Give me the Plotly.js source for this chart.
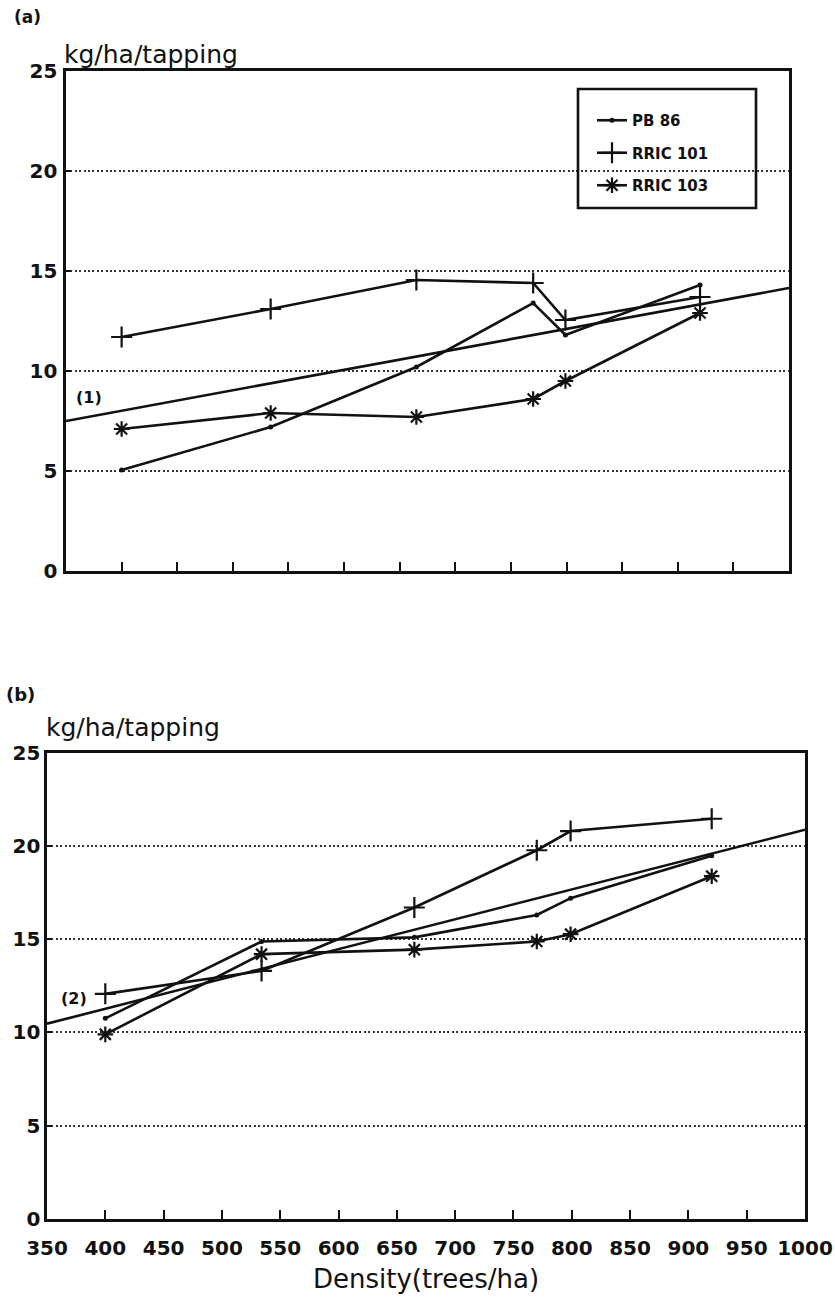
<!DOCTYPE html>
<html>
<head>
<meta charset="utf-8">
<script src="https://cdn.plot.ly/plotly-3.0.1.min.js"></script>
<style>
  html, body { margin: 0; padding: 0; background: #ffffff; }
  #chart { width: 835px; height: 1301px; }
</style>
</head>
<body>
<div id="chart"></div>
<script>
// ---------------- data ----------------
const density = [400, 534, 665, 770, 799, 920];

// panel (a)
const pb86A    = [5.05, 7.2, 10.2, 13.4, 11.8, 14.3];
const rric101A = [11.7, 13.1, 14.55, 14.4, 12.55, 13.7];
const rric103A = [7.1, 7.9, 7.7, 8.6, 9.5, 12.9];

// panel (b)
const pb86B    = [10.76, 14.88, 15.1, 16.3, 17.2, 19.47];
const rric101B = [12.07, 13.3, 16.7, 19.77, 20.8, 21.46];
const rric103B = [9.9, 14.2, 14.44, 14.88, 15.27, 18.38];

// fitted lines (1) and (2)
const regX = [350, 1000];
const regA = [7.5, 14.15];
const regB = [10.47, 20.87];

const seriesNames = ['PB 86', 'RRIC 101', 'RRIC 103'];
const yTickVals = [0, 5, 10, 15, 20, 25];
const xTickVals = [350, 400, 450, 500, 550, 600, 650, 700, 750, 800, 850, 900, 950, 1000];
const xTickText = ['350', '400', '450', '500', '550', '600', '650', '700', '750', '800', '850', '900', '950', '1000'];

// ---------------- helpers ----------------
const W = 835, H = 1301;
const fx = p => p / W;
const fy = p => 1 - p / H;

const INK = '#111111';
const lineStyle = { color: INK, width: 2.6 };
const markerStyles = [
  { symbol: 'circle', size: 5, color: INK, line: { width: 0 } },
  { symbol: 'cross-thin', size: 15, color: INK, line: { width: 2.2, color: INK } },
  { symbol: 'asterisk', size: 13, color: INK, line: { width: 2.2, color: INK } }
];

function series(x, y, idx, xa, ya, legend) {
  return {
    type: 'scatter', mode: 'lines+markers',
    x: x, y: y, xaxis: xa, yaxis: ya,
    name: seriesNames[idx],
    legendgroup: 'g' + idx,
    showlegend: legend,
    line: lineStyle,
    marker: markerStyles[idx],
    hoverinfo: 'x+y+name'
  };
}
function reg(y, xa, ya, name) {
  return {
    type: 'scatter', mode: 'lines', x: regX, y: y, xaxis: xa, yaxis: ya,
    name: name, showlegend: false, line: lineStyle
  };
}

const data = [
  series(density, pb86A, 0, 'x', 'y', true),
  series(density, rric101A, 1, 'x', 'y', true),
  series(density, rric103A, 2, 'x', 'y', true),
  reg(regA, 'x', 'y', '(1)'),
  series(density, pb86B, 0, 'x2', 'y2', false),
  series(density, rric101B, 1, 'x2', 'y2', false),
  series(density, rric103B, 2, 'x2', 'y2', false),
  reg(regB, 'x2', 'y2', '(2)')
];

const tickFont = { family: 'DejaVu Sans', size: 20, color: INK, weight: 'bold' };
const gridCommon = {
  showgrid: true, gridcolor: '#333333', gridwidth: 2, griddash: '2px,2.4px',
  zeroline: false, showline: true, linecolor: INK, linewidth: 2.6, mirror: true,
  automargin: false, fixedrange: true
};

const layout = {
  width: W, height: H,
  margin: { l: 0, r: 0, t: 0, b: 0 },
  paper_bgcolor: '#ffffff', plot_bgcolor: '#ffffff',
  font: { family: 'DejaVu Sans', color: INK },
  showlegend: true,
  legend: {
    x: fx(592), y: fy(104), xanchor: 'left', yanchor: 'top',
    bgcolor: 'rgba(0,0,0,0)', borderwidth: 0,
    font: { family: 'DejaVu Sans', size: 15, color: INK, weight: 'bold' },
    tracegroupgap: 10, traceorder: 'grouped'
  },
  xaxis: Object.assign({}, gridCommon, {
    domain: [fx(66), fx(789)], range: [350, 1000], anchor: 'y',
    showgrid: false, tickmode: 'array', tickvals: xTickVals, ticktext: xTickText,
    ticks: 'inside', ticklen: 9, tickwidth: 2, tickcolor: INK,
    showticklabels: false
  }),
  yaxis: Object.assign({}, gridCommon, {
    domain: [fy(571), fy(71)], range: [0, 25], anchor: 'x',
    tickmode: 'array', tickvals: yTickVals,
    ticks: 'inside', ticklen: 5, tickwidth: 2, tickcolor: INK,
    tickfont: tickFont, ticklabelstandoff: 2
  }),
  xaxis2: Object.assign({}, gridCommon, {
    domain: [fx(47), fx(805)], range: [350, 1000], anchor: 'y2',
    showgrid: false, tickmode: 'array', tickvals: xTickVals, ticktext: xTickText,
    ticks: 'inside', ticklen: 9, tickwidth: 2, tickcolor: INK,
    tickfont: tickFont, ticklabelstandoff: 9,
    title: { text: 'Density(trees/ha)', font: { family: 'DejaVu Sans', size: 26, color: INK }, standoff: 12 }
  }),
  yaxis2: Object.assign({}, gridCommon, {
    domain: [fy(1219), fy(752.7)], range: [0, 25], anchor: 'x2',
    tickmode: 'array', tickvals: yTickVals,
    ticks: 'inside', ticklen: 5, tickwidth: 2, tickcolor: INK,
    tickfont: tickFont, ticklabelstandoff: 0
  }),
  shapes: [
    { type: 'rect', xref: 'paper', yref: 'paper',
      x0: fx(578), x1: fx(756), y0: fy(208), y1: fy(89),
      line: { color: INK, width: 2.6 }, fillcolor: 'rgba(0,0,0,0)', layer: 'above' }
  ],
  annotations: [
    { text: '(a)', xref: 'paper', yref: 'paper', x: fx(12), y: fy(17), xanchor: 'left', yanchor: 'middle',
      showarrow: false, font: { family: 'DejaVu Sans', size: 17, color: INK, weight: 'bold' } },
    { text: 'kg/ha/tapping', xref: 'paper', yref: 'paper', x: fx(62), y: fy(55), xanchor: 'left', yanchor: 'middle',
      showarrow: false, font: { family: 'DejaVu Sans', size: 25, color: INK } },
    { text: '(1)', xref: 'x', yref: 'y', x: 371, y: 8.67, xanchor: 'center', yanchor: 'middle',
      showarrow: false, font: { family: 'DejaVu Sans', size: 16, color: INK, weight: 'bold' } },
    { text: '(b)', xref: 'paper', yref: 'paper', x: fx(4), y: fy(694), xanchor: 'left', yanchor: 'middle',
      showarrow: false, font: { family: 'DejaVu Sans', size: 18, color: INK, weight: 'bold' } },
    { text: 'kg/ha/tapping', xref: 'paper', yref: 'paper', x: fx(44), y: fy(728), xanchor: 'left', yanchor: 'middle',
      showarrow: false, font: { family: 'DejaVu Sans', size: 25, color: INK } },
    { text: '(2)', xref: 'x2', yref: 'y2', x: 373, y: 11.8, xanchor: 'center', yanchor: 'middle',
      showarrow: false, font: { family: 'DejaVu Sans', size: 16, color: INK, weight: 'bold' } }
  ]
};

Plotly.newPlot('chart', data, layout, { staticPlot: true, displayModeBar: false });
</script>
</body>
</html>
